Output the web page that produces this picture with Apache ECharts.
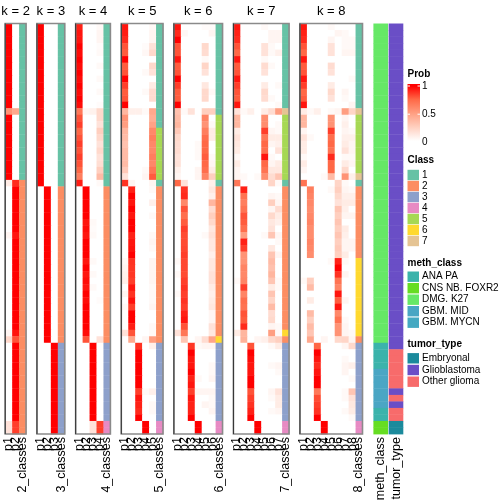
<!DOCTYPE html>
<html><head><meta charset="utf-8">
<script src="https://cdn.jsdelivr.net/npm/echarts@6/dist/echarts.min.js"></script>
<style>html,body{margin:0;padding:0;background:#fff}#c{width:504px;height:504px}</style>
</head><body><div id="c"></div>
<script>
// ---------------- DATA ----------------
const kValues = [2,3,4,5,6,7,8];
const classLevels = ['1','2','3','4','5','6','7'];
const methLevels = ['ANA PA','CNS NB. FOXR2','DMG. K27','GBM. MID','GBM. MYCN'];
const tumorLevels = ['Embryonal','Glioblastoma','Other glioma'];
const probTicks = ['1','0.5','0'];

const prob_k2 = [
[1,0],[1,0],[1,0],[1,0],[1,0],[1,0],[1,0],[1,0],[1,0],[1,0],[1,0],[1,0],[1,0],
[0.55,0.45],
[1,0],[1,0],[1,0],[1,0],[1,0],[1,0],[1,0],[1,0],[1,0],[1,0],
[0.1,0.9],
[0,1],[0,1],[0,1],[0,1],[0,1],[0,1],[0,1],
[0.05,0.95],
[0,1],[0,1],[0,1],[0,1],[0,1],[0,1],[0,1],[0,1],[0,1],[0,1],[0,1],[0,1],[0,1],[0,1],
[0.05,0.95],
[0.2,0.8],
[0,1],[0,1],[0,1],[0,1],[0,1],[0,1],[0,1],[0,1],[0,1],[0,1],[0,1],[0,1],
[0.15,0.85],[0.15,0.85]
];
const class_k2 = [1,1,1,1,1,1,1,1,1,1,1,1,1,1,1,1,1,1,1,1,1,1,1,1,
2,2,2,2,2,2,2,2,2,2,2,2,2,2,2,2,2,2,2,2,2,2,2,2,2,2,2,2,2,2,2,2,2,2,2,2,2,2,2];

const prob_k3 = [
[1,0,0],[1,0,0],[1,0,0],[1,0,0],[1,0,0],[1,0,0],[1,0,0],[1,0,0],[1,0,0],[1,0,0],
[1,0,0],[1,0,0],[1,0,0],[1,0,0],[1,0,0],[1,0,0],[1,0,0],[1,0,0],[1,0,0],[1,0,0],
[1,0,0],[1,0,0],[1,0,0],[1,0,0],[1,0,0],
[0,1,0],[0,1,0],[0,1,0],[0,1,0],[0,1,0],[0,1,0],[0,1,0],[0,1,0],[0,1,0],[0,1,0],
[0,1,0],[0,1,0],[0,1,0],[0,1,0],[0,1,0],[0,1,0],[0,1,0],[0,1,0],[0,1,0],[0,1,0],
[0,1,0],[0,1,0],[0,1,0],[0,1,0],
[0,0,1],[0,0,1],[0,0,1],[0,0,1],[0,0,1],[0,0,1],[0,0,1],[0,0,1],[0,0,1],[0,0,1],
[0,0,1],[0,0,1],[0,0,1],[0,0,1]
];
const class_k3 = [1,1,1,1,1,1,1,1,1,1,1,1,1,1,1,1,1,1,1,1,1,1,1,1,1,
2,2,2,2,2,2,2,2,2,2,2,2,2,2,2,2,2,2,2,2,2,2,2,2,
3,3,3,3,3,3,3,3,3,3,3,3,3,3];

const prob_k4 = [
[0.92,0,0,0.03],[0.95,0,0,0.05],[0.95,0,0,0.05],[1,0,0,0.02],[0.97,0,0,0.03],
[1,0,0,0],[0.97,0,0,0.03],[1,0,0,0],[0.97,0,0,0.03],[1,0,0,0],
[0.97,0,0,0.03],[1,0,0,0],[0.97,0,0,0.02],
[0.68,0.05,0.07,0.2],
[0.8,0,0,0.2],[0.85,0,0,0.15],[0.75,0,0,0.25],[0.8,0,0,0.2],[0.85,0,0,0.15],
[0.8,0,0,0.2],[0.85,0,0,0.15],[0.8,0,0,0.17],[0.75,0,0,0.25],[0.65,0,0,0.35],
[0.93,0,0,0.03],
[0,1,0,0],[0,1,0,0],[0,1,0,0],[0,1,0,0],[0,1,0,0],
[0,0.95,0.03,0],[0,0.97,0.02,0],[0,0.95,0.03,0],
[0,1,0,0],[0,1,0,0],[0,1,0,0],
[0,0.95,0.03,0],[0,1,0,0],[0,0.95,0.03,0],[0,0.97,0,0],[0,0.95,0.03,0],
[0,1,0,0],[0,0.97,0,0.02],[0,1,0,0],[0,1,0,0],[0,1,0,0],[0,1,0,0],
[0,0.97,0,0],
[0,0.8,0,0.15],
[0,0,1,0],[0,0,1,0],[0,0,1,0],[0,0,1,0],[0,0,1,0],[0,0,1,0],
[0,0,1,0],[0,0,1,0],[0,0,1,0],[0,0,1,0],[0,0,1,0],[0,0,1,0],
[0,0,0.15,0.85],[0,0,0.15,0.85]
];
const class_k4 = [1,1,1,1,1,1,1,1,1,1,1,1,1,1,1,1,1,1,1,1,1,1,1,1,1,
2,2,2,2,2,2,2,2,2,2,2,2,2,2,2,2,2,2,2,2,2,2,2,2,
3,3,3,3,3,3,3,3,3,3,3,3,4,4];

const prob_k5 = [
[0.95,0,0,0,0.03],[0.93,0,0,0,0.05],[0.9,0,0,0,0.05],[0.8,0,0,0.02,0.15],[0.78,0,0,0.04,0.2],
[1,0,0,0,0],[0.78,0,0,0,0.2],[0.8,0,0,0.03,0.15],[1,0,0,0,0],[0.85,0,0,0,0.1],
[0.78,0,0,0.03,0.18],[0.8,0,0,0,0.18],[1,0,0,0,0],
[0.38,0.08,0.08,0.03,0.45],
[0.55,0,0,0,0.42],[0.5,0,0,0,0.48],
[0.38,0,0,0,0.6],[0.35,0,0,0,0.65],[0.32,0,0,0,0.6],[0.35,0,0,0,0.6],
[0.35,0,0,0,0.65],[0.35,0,0,0,0.6],[0.28,0,0,0.03,0.68],[0.15,0,0,0.05,0.78],
[0.88,0.05,0,0,0.05],
[0,0.92,0,0,0.03],[0,1,0,0,0],[0,0.95,0,0,0.08],[0,1,0,0,0],[0,0.95,0,0,0.03],
[0,1,0,0,0],[0,1,0,0,0],[0,0.92,0,0,0.03],[0,0.95,0,0,0.05],[0,0.96,0,0,0.03],
[0,1,0,0,0],[0.03,0.88,0,0,0.05],[0.05,0.87,0,0,0.05],[0.07,0.87,0,0,0.05],[0.08,0.85,0,0,0.05],
[0,0.95,0,0,0.03],[0.05,0.88,0,0,0.03],[0,0.96,0,0,0.03],[0.03,0.85,0,0,0.05],[0,1,0,0,0],
[0,1,0,0,0],[0,0.93,0,0,0.03],[0.15,0.8,0,0,0.03],
[0,0.45,0,0.05,0.5],
[0,0,0.88,0,0.08],[0,0,1,0,0],[0,0,1,0,0],[0,0,1,0,0],[0,0,1,0,0],[0,0,1,0,0],
[0,0,1,0,0],[0,0,0.85,0.03,0.08],[0,0,0.95,0,0],[0,0,0.92,0,0.03],[0,0,0.9,0,0.03],[0,0,1,0,0],
[0,0,0,1,0],[0,0,0,1,0]
];
const class_k5 = [1,1,1,1,1,1,1,1,1,1,1,1,1,1,1,1,5,5,5,5,5,5,5,5,1,
2,2,2,2,2,2,2,2,2,2,2,2,2,2,2,2,2,2,2,2,2,2,2,2,
3,3,3,3,3,3,3,3,3,3,3,3,4,4];

const prob_k6 = [
[0.95,0,0,0,0.02,0.02],[0.9,0.04,0,0,0,0.05],[1,0,0,0,0,0],[0.8,0,0,0,0.2,0],[0.8,0,0,0,0.18,0],
[0.95,0,0,0,0.03,0],[0.78,0,0,0,0.22,0],[0.8,0,0,0,0.15,0],[1,0,0,0,0,0],[0.85,0,0,0,0.12,0],
[0.78,0,0,0,0.2,0.03],[0.78,0,0,0,0.2,0],[1,0,0,0,0,0],
[0.32,0.03,0.15,0,0.25,0.25],
[0.35,0,0,0,0.62,0],[0.38,0,0,0,0.55,0.03],[0.28,0,0,0,0.65,0.1],[0.2,0,0,0,0.72,0.1],
[0.18,0,0,0.03,0.75,0],[0.18,0,0,0.03,0.75,0],[0.15,0,0,0.03,0.78,0.03],[0.15,0,0,0,0.75,0.05],
[0.08,0,0,0.05,0.72,0.1],[0.05,0,0,0.05,0.62,0.25],
[0.75,0.15,0,0,0,0.08],
[0,0.88,0,0,0,0.12],[0,0.9,0,0,0,0.08],[0,0.6,0,0,0,0.38],[0,0.8,0,0,0,0.18],[0,0.72,0,0,0,0.25],
[0,0.78,0,0,0,0.2],[0,0.85,0,0,0,0.12],[0,0.82,0,0,0.03,0.15],[0,0.82,0,0,0,0.12],[0,0.83,0,0,0,0.12],
[0,0.85,0,0,0,0.08],[0.03,0.83,0,0,0,0.12],[0,0.83,0,0,0,0.12],[0.03,0.82,0,0,0,0.15],[0,0.85,0,0,0,0.15],
[0,0.88,0,0,0,0.1],[0.03,0.85,0,0,0,0.08],[0,0.88,0,0,0,0.1],[0,0.85,0,0,0,0.12],[0,0.92,0,0,0,0.05],
[0,0.95,0,0,0,0.05],[0,0.8,0,0,0,0.15],[0.15,0.68,0,0,0,0.12],
[0,0.3,0,0.05,0.18,0.47],
[0,0,0.87,0.03,0.05,0.05],[0,0,1,0,0,0],[0,0,0.95,0,0,0],[0,0,0.95,0,0,0.03],[0,0,1,0,0,0.03],
[0,0,0.92,0.03,0,0.05],[0,0,0.95,0,0,0],[0,0,0.85,0.05,0.05,0.05],[0,0,0.95,0,0,0.03],[0,0,0.92,0,0.05,0.03],
[0,0,0.92,0,0,0.05],[0,0,1,0,0,0],
[0,0,0,1,0,0],[0,0,0,1,0,0]
];
const class_k6 = [1,1,1,1,1,1,1,1,1,1,1,1,1,1,5,5,5,5,5,5,5,5,5,5,1,
2,2,2,2,2,2,2,2,2,2,2,2,2,2,2,2,2,2,2,2,2,2,2,6,
3,3,3,3,3,3,3,3,3,3,3,3,4,4];

const prob_k7 = [
[0.95,0,0,0,0.03,0,0],[0.92,0,0,0,0,0.05,0.05],[0.9,0,0,0,0,0.05,0.05],[0.8,0,0,0,0.15,0.03,0],
[0.75,0,0,0,0.15,0.03,0.08],[0.95,0,0,0,0.03,0,0],[0.78,0,0,0,0.18,0.03,0],[0.8,0,0,0,0.15,0,0],
[0.95,0,0,0,0,0,0],[0.85,0,0,0,0.1,0,0.03],[0.8,0,0,0,0.2,0,0],[0.78,0,0,0,0.18,0.03,0],
[0.95,0,0,0,0,0,0.03],
[0.15,0.03,0.08,0,0.1,0.18,0.5],
[0.38,0,0,0,0.58,0,0],[0.38,0,0,0,0.58,0,0.03],[0.1,0,0,0,0.85,0.05,0.03],[0.15,0,0,0,0.68,0.1,0.1],
[0.12,0,0,0,0.75,0.05,0.08],[0.1,0,0,0,0.72,0,0.15],[0.03,0,0,0,0.95,0.03,0],[0.1,0,0,0,0.75,0.05,0.1],
[0.05,0,0,0,0.7,0.12,0.12],[0.05,0.03,0,0.03,0.58,0.18,0.3],
[0.68,0,0,0,0,0.22,0.03],
[0,0.92,0,0,0,0,0],[0,0.7,0,0,0,0.05,0.03],[0,0.65,0,0,0,0.25,0.05],[0,0.7,0,0,0,0.05,0.18],
[0,0.8,0,0,0,0.2,0.1],[0,0.78,0,0,0,0.12,0.08],[0,0.72,0,0,0,0.15,0],[0,0.5,0,0,0.03,0.3,0.05],
[0,0.92,0,0,0,0,0.03],[0,0.85,0,0,0,0.12,0],[0,0.55,0,0,0,0.3,0.05],[0,0.55,0,0,0,0.35,0],
[0,0.62,0,0,0,0.32,0],[0,0.6,0,0,0,0.38,0],[0.03,0.62,0,0,0,0.3,0.03],[0,0.85,0,0,0,0.1,0.03],
[0,0.62,0,0,0,0.3,0],[0,0.72,0,0,0,0.22,0],[0,0.7,0,0,0,0.35,0],[0,0.8,0,0,0,0.18,0],
[0,0.78,0,0,0,0.2,0],[0,0.9,0,0,0,0.05,0.03],
[0.1,0.38,0,0,0,0.5,0.03],
[0,0.4,0,0.05,0.08,0.2,0.25],
[0,0,0.8,0,0,0.03,0.1],[0,0,1,0,0,0,0],[0,0,0.97,0,0,0,0],[0,0,0.95,0,0,0.03,0.05],
[0,0,0.95,0,0,0,0.03],[0,0,1,0,0,0,0],[0,0,1,0,0,0,0],[0,0,0.8,0,0,0.05,0.15],
[0,0,0.85,0,0,0.03,0.1],[0,0,0.88,0,0,0,0.1],[0,0,0.92,0,0,0.03,0.05],[0,0,1,0,0,0,0],
[0,0,0,1,0,0,0],[0,0,0,1,0,0,0]
];
const class_k7 = [1,1,1,1,1,1,1,1,1,1,1,1,1,7,5,5,5,5,5,5,5,5,5,5,1,
2,2,2,2,2,2,2,2,2,2,2,2,2,2,2,2,2,2,2,2,2,2,6,2,
3,3,3,3,3,3,3,3,3,3,3,3,4,4];

const prob_k8 = [
[0.95,0,0,0,0.03,0,0,0],[0.92,0,0,0,0,0.05,0.03,0],[0.9,0,0,0,0.05,0,0.03,0.03],[0.8,0,0,0,0.15,0,0.03,0.03],
[0.75,0,0,0,0.15,0,0.05,0.05],[0.95,0,0,0,0,0,0,0],[0.78,0,0,0,0.18,0,0,0],[0.8,0,0,0,0.15,0,0,0],
[0.95,0,0,0,0,0,0,0.03],[0.85,0,0,0,0.1,0,0,0],[0.75,0,0,0,0.2,0,0.05,0],[0.78,0,0,0,0.15,0,0.03,0],
[0.95,0,0,0,0,0,0,0.05],
[0.1,0.03,0.08,0,0.03,0.05,0.5,0.22],
[0.38,0,0,0,0.55,0,0.05,0],[0.38,0,0,0,0.55,0,0.08,0],[0.05,0,0,0,0.85,0,0.05,0.03],[0.15,0.03,0,0,0.72,0,0.08,0.08],
[0.1,0,0,0,0.75,0,0.1,0.05],[0.1,0,0,0,0.7,0,0.15,0.05],[0.03,0,0,0,0.9,0,0.03,0.03],[0.1,0,0,0,0.75,0,0.1,0.05],
[0.05,0,0,0,0.75,0,0.2,0],
[0,0,0,0.03,0.35,0,0.55,0.08],
[0.7,0,0,0,0,0.22,0.03,0],
[0,0.65,0,0,0.03,0.25,0.05,0.03],[0,0.62,0,0,0,0.2,0.08,0.08],[0,0.6,0,0,0,0.15,0.1,0.1],[0,0.58,0,0,0,0.3,0.08,0],
[0,0.6,0,0,0,0.25,0.05,0.05],[0,0.62,0,0,0,0.3,0,0],[0,0.58,0,0,0,0.25,0.1,0],[0,0.58,0,0,0,0.3,0.08,0],
[0,0.62,0,0,0,0.25,0.05,0.05],[0,0.6,0,0,0,0.28,0.05,0.05],[0,0.58,0,0,0,0.25,0.1,0],
[0,0,0,0,0.03,0.92,0.03,0],[0,0,0,0,0,1,0,0],[0,0,0,0,0,0.88,0.05,0],[0.03,0.25,0,0,0,0.7,0,0],
[0,0.35,0,0,0,0.62,0,0],[0,0,0,0,0,0.95,0,0],[0,0.1,0,0,0,0.78,0.05,0],[0,0,0,0,0,0.95,0,0],
[0,0.35,0,0,0,0.6,0,0],[0,0.25,0,0,0,0.7,0.03,0],[0,0.35,0,0,0,0.55,0.05,0],[0,0.3,0,0,0,0.55,0.05,0.03],
[0,0.45,0,0.05,0,0.2,0.22,0.05],
[0,0,0.75,0,0,0,0.05,0.2],[0,0,1,0,0,0,0,0],[0,0,0.95,0,0,0,0.03,0],[0,0,0.9,0,0,0,0.05,0.08],
[0,0,0.95,0,0,0,0.05,0],[0,0,1,0,0,0,0,0.03],[0,0,1,0,0,0,0,0],[0,0,0.68,0,0,0,0.03,0.3],
[0,0,0.82,0,0,0,0.03,0.15],[0,0,0.85,0,0,0,0,0.12],[0,0,0.88,0,0,0,0.03,0.1],[0,0,1,0,0,0,0,0.03],
[0,0,0,1,0,0,0,0],[0,0,0,1,0,0,0,0]
];
const class_k8 = [1,1,1,1,1,1,1,1,1,1,1,1,1,7,5,5,5,5,5,5,5,5,5,7,1,
2,2,2,2,2,2,2,2,2,2,2,6,6,6,6,6,6,6,6,6,6,6,6,2,
3,3,3,3,3,3,3,3,3,3,3,3,4,4];

// annotation columns (indices into methLevels / tumorLevels)
const meth_class = [2,2,2,2,2,2,2,2,2,2,2,2,2,2,2,2,2,2,2,2,2,2,2,2,2,
2,2,2,2,2,2,2,2,2,2,2,2,2,2,2,2,2,2,2,2,2,2,2,2,
0,0,0,0,3,3,3,3,3,3,0,0,1,1];
const tumor_type = [1,1,1,1,1,1,1,1,1,1,1,1,1,1,1,1,1,1,1,1,1,1,1,1,1,
1,1,1,1,1,1,1,1,1,1,1,1,1,1,1,1,1,1,1,1,1,1,1,1,1,
2,2,2,2,2,2,1,2,1,2,2,0,0];

// ---------------- STYLE ----------------
const classColors = ['#66c2a5','#fc8d62','#8da0cb','#e78ac3','#a6d854','#ffd92f','#e5c494'];
const methColors = ['#3bb3ab','#66dd22','#66e866','#4aa6c4','#45a9c2'];
const tumorColors = ['#1b8a9c','#6a4ec6','#f76b6b'];
const FONT = '"Liberation Sans", Arial, Helvetica, sans-serif';
const rampStops = [[0,[255,255,255]],[0.25,[255,207,191]],[0.5,[255,158,129]],[0.75,[255,104,70]],[1,[255,0,0]]];
function probColor(v){
  v = Math.max(0, Math.min(1, v));
  for (let i=0;i<rampStops.length-1;i++){
    const a=rampStops[i], b=rampStops[i+1];
    if (v<=b[0]){
      const t=(v-a[0])/(b[0]-a[0]);
      const c=a[1].map((x,j)=>Math.round(x+(b[1][j]-x)*t));
      return 'rgb('+c.join(',')+')';
    }
  }
  return 'rgb(255,0,0)';
}

const TOP=23.5, H=410.5, CW=6.95, GAP=10.9, LEFT0=5.2;
const rowIds = prob_k2.map((_,i)=>String(i));
const probs = [prob_k2,prob_k3,prob_k4,prob_k5,prob_k6,prob_k7,prob_k8];
const classes = [class_k2,class_k3,class_k4,class_k5,class_k6,class_k7,class_k8];

const grids=[], xAxes=[], yAxes=[], series=[], graphics=[];
function makeRender(colors, cellFrac){
  return function(params, api){
    const p = api.coord([api.value(0), api.value(1)]);
    const s = api.size([1,1]);
    const w = s[0]*cellFrac;
    return {type:'rect', shape:{x:p[0]-s[0]/2, y:p[1]-s[1]/2, width:w+0.4, height:s[1]+0.4},
            style:{fill:colors[params.dataIndex]}};
  };
}
const axisLabelStyle = {rotate:90, interval:0, margin:3, fontSize:12.5, color:'#000', fontFamily:FONT};

let left = LEFT0;
kValues.forEach((k,i)=>{
  const ncol = k+1, w = ncol*CW;
  grids.push({left:left, top:TOP, width:w, height:H});
  const cats = []; for (let j=1;j<=k;j++) cats.push('p'+j); cats.push(k+'_classes');
  xAxes.push({gridIndex:i, type:'category', data:cats, axisLine:{show:false}, axisTick:{show:false}, axisLabel:axisLabelStyle, splitLine:{show:false}});
  yAxes.push({gridIndex:i, type:'category', data:rowIds, inverse:true, show:false});
  const data=[], colors=[];
  probs[i].forEach((row,r)=>{
    row.forEach((v,c)=>{ data.push([c,r,v]); colors.push(probColor(v)); });
    data.push([k,r,classes[i][r]]); colors.push(classColors[classes[i][r]-1]);
  });
  series.push({type:'custom', xAxisIndex:i, yAxisIndex:i, data:data, renderItem:makeRender(colors,1), animation:false, silent:true, z:2});
  graphics.push({type:'rect', shape:{x:left, y:TOP, width:w, height:H}, style:{fill:null, stroke:'#8a8a8a', lineWidth:1.6}, z:10});
  graphics.push({type:'line', shape:{x1:left, y1:TOP, x2:left, y2:TOP+H}, style:{stroke:'#333', lineWidth:1}, z:11});
  graphics.push({type:'text', x:left+w/2, y:11.5, style:{text:'k = '+k, font:'13px '+FONT, fill:'#000', align:'center', verticalAlign:'middle'}, z:11});
  left += w + GAP;
});

// annotation grid
const ai = kValues.length;
grids.push({left:left, top:TOP, width:30.5, height:H});
xAxes.push({gridIndex:ai, type:'category', data:['meth_class','tumor_type'], axisLine:{show:false}, axisTick:{show:false}, axisLabel:axisLabelStyle});
yAxes.push({gridIndex:ai, type:'category', data:rowIds, inverse:true, show:false});
(function(){
  const data=[], colors=[];
  meth_class.forEach((m,r)=>{ data.push([0,r,m]); colors.push(methColors[m]); });
  tumor_type.forEach((t,r)=>{ data.push([1,r,t]); colors.push(tumorColors[t]); });
  series.push({type:'custom', xAxisIndex:ai, yAxisIndex:ai, data:data, renderItem:makeRender(colors,0.935), animation:false, silent:true});
})();

// legends
const LX = 407.5, TX = 422;
function title(t,y){ graphics.push({type:'text', x:LX, y:y, style:{text:t, font:'bold 10px '+FONT, fill:'#000', verticalAlign:'middle'}}); }
function label(t,y){ graphics.push({type:'text', x:TX, y:y, style:{text:t, font:'10px '+FONT, fill:'#000', verticalAlign:'middle'}}); }
title('Prob', 74);
graphics.push({type:'rect', shape:{x:LX, y:84, width:12.5, height:57},
  style:{fill:new echarts.graphic.LinearGradient(0,0,0,1,[
    {offset:0,color:probColor(1)},{offset:0.035,color:probColor(1)},
    {offset:0.27,color:probColor(0.75)},{offset:0.51,color:probColor(0.5)},
    {offset:0.755,color:probColor(0.25)},{offset:1,color:probColor(0)}])}});
[86,114.2].forEach(y=>{
  graphics.push({type:'line', shape:{x1:LX, y1:y, x2:LX+2.5, y2:y}, style:{stroke:'#fff', lineWidth:1}, z:5});
  graphics.push({type:'line', shape:{x1:LX+10, y1:y, x2:LX+12.5, y2:y}, style:{stroke:'#fff', lineWidth:1}, z:5});
});
label(probTicks[0], 86); label(probTicks[1], 114.3); label(probTicks[2], 142);

function boxes(levels, colors, y0, step){
  levels.forEach((t,i)=>{
    const y = y0 + i*step;
    graphics.push({type:'rect', shape:{x:LX, y:y-5.2, width:11.5, height:10.4}, style:{fill:colors[i]}});
    label(t, y);
  });
}
title('Class', 160);
boxes(classLevels, classColors, 175, 11);
title('meth_class', 263.3);
boxes(methLevels, methColors, 276.7, 11.5);
title('tumor_type', 344.3);
boxes(tumorLevels, tumorColors, 358.3, 11.7);

const chart = echarts.init(document.getElementById('c'), null, {renderer:'canvas'});
chart.setOption({
  animation:false,
  backgroundColor:'#fff',
  textStyle:{fontFamily:FONT},
  grid:grids, xAxis:xAxes, yAxis:yAxes, series:series, graphic:graphics
});
</script></body></html>
